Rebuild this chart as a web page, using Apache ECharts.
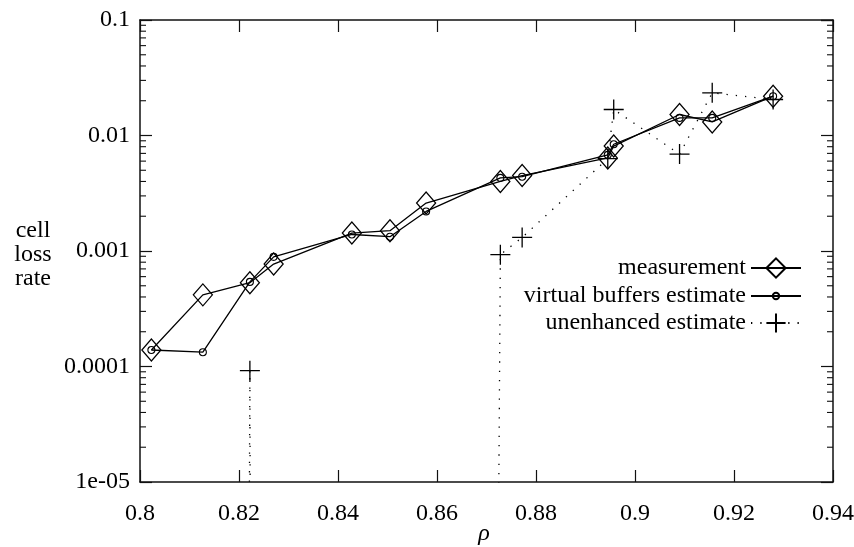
<!DOCTYPE html>
<html>
<head>
<meta charset="utf-8">
<script src="https://cdn.jsdelivr.net/npm/echarts@6/dist/echarts.min.js"></script>
<style>
  html, body { margin: 0; padding: 0; background: #fff; }
  #chart { width: 854px; height: 547px; }
</style>
</head>
<body>
<div id="chart"></div>
<script>
// rho values shared by all three curves
const rho = [0.8023, 0.8127, 0.8222, 0.8270, 0.8428, 0.8505, 0.8578, 0.8728, 0.8772, 0.8945, 0.8957, 0.9090, 0.9156, 0.9279]
const measurement = [1.39e-4, 4.17e-4, 5.32e-4, 7.7e-4, 1.43e-3, 1.5e-3, 2.6e-3, 4.0e-3, 4.5e-3, 6.4e-3, 8.1e-3, 0.0152, 0.0131, 0.0219]
const virtualBuffers = [1.39e-4, 1.33e-4, 5.4e-4, 8.9e-4, 1.39e-3, 1.33e-3, 2.2e-3, 4.3e-3, 4.4e-3, 6.8e-3, 8.4e-3, 0.0142, 0.0142, 0.0219]
// 1e-99 = effectively zero, far below the axis range
const unenhanced = [1e-99, 1e-99, 9.2e-5, 1e-99, 1e-99, 1e-99, 1e-99, 9.3e-4, 1.31e-3, 6.3e-3, 0.0168, 6.9e-3, 0.0234, 0.0205]

const seriesNames = ['measurement', 'virtual buffers estimate', 'unenhanced estimate']

const xTickValues = [0.8, 0.82, 0.84, 0.86, 0.88, 0.9, 0.92, 0.94]
const xTickLabels = ['0.8', '0.82', '0.84', '0.86', '0.88', '0.9', '0.92', '0.94']
const yTickValues = [1e-5, 1e-4, 1e-3, 1e-2, 0.1]
const yTickLabels = ['1e-05', '0.0001', '0.001', '0.01', '0.1']
const minorMultiples = [2, 3, 4, 5, 6, 7, 8, 9]
const minorDecades = [1e-5, 1e-4, 1e-3, 1e-2]

const font = '"Liberation Serif", "Times New Roman", serif'
const pairs = ys => rho.map((x, i) => [x, ys[i]])
const minorTicks = []
minorDecades.forEach(d => minorMultiples.forEach(m => minorTicks.push([xTickValues[0], m * d])))

const xLabel = v => {
  const i = xTickValues.findIndex(t => Math.abs(t - v) < 1e-6)
  return i >= 0 ? xTickLabels[i] : ''
}
const yLabel = v => {
  const i = yTickValues.findIndex(t => Math.abs(Math.log10(t) - Math.log10(v)) < 1e-6)
  return i >= 0 ? yTickLabels[i] : ''
}

const frame = { show: true, lineStyle: { color: '#111', width: 1.5 } }
const xBase = {
  type: 'value', min: 0.8, max: 0.94, interval: 0.02,
  axisLine: frame,
  axisTick: { show: true, inside: true, length: 12, lineStyle: { color: '#111', width: 1.2 } },
  splitLine: { show: false }
}
const yBase = {
  type: 'log', logBase: 10, min: 1e-5, max: 0.1,
  axisLine: frame,
  axisTick: { show: true, inside: true, length: 12, lineStyle: { color: '#111', width: 1.2 } },
  splitLine: { show: false }
}
const legendText = { fontFamily: font, fontSize: 24, color: '#000' }
const legendTops = [256, 284, 311]
const legendIconH = [24, 8, 24]

const chart = echarts.init(document.getElementById('chart'), null, { renderer: 'canvas' })
chart.setOption({
  animation: false,
  backgroundColor: '#fff',
  grid: { left: 140, right: 21, top: 20, bottom: 65, containLabel: false, outerBoundsMode: 'none' },
  xAxis: [
    Object.assign({}, xBase, {
      position: 'bottom',
      axisLabel: { formatter: xLabel, fontFamily: font, fontSize: 24, color: '#000', margin: 20 }
    }),
    Object.assign({}, xBase, { position: 'top', axisLabel: { show: false } })
  ],
  yAxis: [
    Object.assign({}, yBase, {
      position: 'left',
      axisLabel: { formatter: yLabel, fontFamily: font, fontSize: 24, color: '#000', margin: 10 }
    }),
    Object.assign({}, yBase, { position: 'right', axisLabel: { show: false } })
  ],
  legend: seriesNames.map((name, i) => ({
    data: [name], right: 52, top: legendTops[i], align: 'right', padding: 0,
    itemWidth: 50, itemHeight: legendIconH[i], textStyle: legendText, selectedMode: false
  })),
  graphic: [
    {
      type: 'text', left: 13, top: 219,
      style: { text: 'cell\nloss\nrate', fontFamily: font, fontSize: 24, fill: '#000', textAlign: 'center', lineHeight: 24, width: 40 }
    },
    {
      type: 'text', x: 484, y: 534,
      style: { text: 'ρ', fontFamily: font, fontStyle: 'italic', fontSize: 24, fill: '#000', align: 'center', verticalAlign: 'middle' }
    }
  ],
  series: [
    {
      name: seriesNames[2], type: 'line', data: pairs(unenhanced),
      symbol: 'path://M0,10L20,10M10,0L10,20', symbolSize: 20,
      itemStyle: { color: 'rgba(0,0,0,0)', borderColor: '#000', borderWidth: 1.3 },
      lineStyle: { color: '#000', width: 1.3, type: [1.3, 8] },
      clip: true, z: 2
    },
    {
      name: seriesNames[1], type: 'line', data: pairs(virtualBuffers),
      symbol: 'circle', symbolSize: 7,
      itemStyle: { color: 'rgba(0,0,0,0)', borderColor: '#000', borderWidth: 1.1 },
      lineStyle: { color: '#000', width: 1.3 },
      clip: true, z: 3
    },
    {
      name: seriesNames[0], type: 'line', data: pairs(measurement),
      symbol: 'diamond', symbolSize: [19, 22],
      itemStyle: { color: 'rgba(0,0,0,0)', borderColor: '#000', borderWidth: 1.3 },
      lineStyle: { color: '#000', width: 1.3 },
      clip: true, z: 4
    },
    {
      // log minor ticks on left and right frame
      type: 'custom', data: minorTicks, silent: true, z: 5,
      renderItem: (params, api) => {
        const cs = params.coordSys
        const y = api.coord([api.value(0), api.value(1)])[1]
        const st = { stroke: '#111', lineWidth: 1.1 }
        return {
          type: 'group',
          children: [
            { type: 'line', shape: { x1: cs.x, y1: y, x2: cs.x + 6, y2: y }, style: st },
            { type: 'line', shape: { x1: cs.x + cs.width - 6, y1: y, x2: cs.x + cs.width, y2: y }, style: st }
          ]
        }
      }
    }
  ]
})
</script>
</body>
</html>
